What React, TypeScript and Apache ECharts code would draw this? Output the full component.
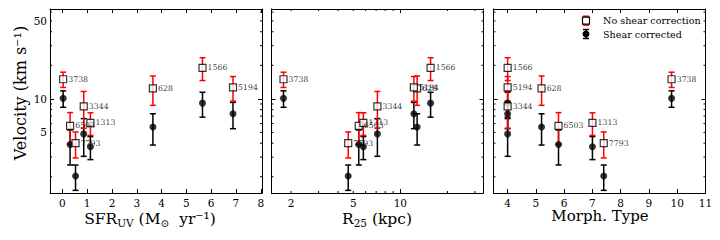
import React, { useEffect, useRef } from "react";
import * as echarts from "echarts";

// ---- data ----
const galaxies = ["3738", "628", "1566", "5194", "3344", "6503", "1313", "7793"];
const sfrUV = [0.03, 3.65, 5.65, 6.88, 0.86, 0.31, 1.13, 0.53];
const r25 = [1.79, 12.8, 15.6, 12.2, 7.13, 5.42, 5.8, 4.64];
const morphType = [9.8, 5.2, 4.0, 4.0, 4.0, 5.8, 7.0, 7.4];
const velNoShear = [15.0, 12.4, 19.0, 12.7, 8.55, 5.73, 6.1, 4.0];
const errNoShear = [2.35, 3.65, 4.4, 3.15, 3.1, 1.8, 1.4, 1.05];
const velShear = [10.1, 5.6, 9.15, 7.35, 4.85, 3.9, 3.72, 2.03];
const errShear = [1.7, 1.75, 2.3, 1.95, 1.8, 1.35, 0.87, 0.52];

// ---- ticks ----
const yTickLabels = [5, 10, 50];
const yMajorTicks = [10];
const yMinorTicks = [2, 3, 4, 5, 6, 7, 8, 9, 20, 30, 40, 50, 60];
const sfrTicks = [0, 1, 2, 3, 4, 5, 6, 7, 8];
const r25TickLabels = [2, 5, 10];
const r25MajorTicks = [10];
const r25MinorTicks = [2, 3, 4, 5, 6, 7, 8, 9, 20, 30];
const typeTicks = [4, 5, 6, 7, 8, 9, 10, 11];

const FONT = "DejaVu Serif";
const L10 = (v: number) => Math.log10(v);

export default function App() {
  const ref = useRef<HTMLDivElement>(null);
  useEffect(() => {
    if (!ref.current) return;
    const chart = echarts.init(ref.current, null, { renderer: "svg" });

    const gridTop = 9;
    const gridH = 184;
    const gridW = 212;
    const gridLefts = [50, 271.5, 493.5];
    const yMin = L10(1.43);
    const yMax = L10(64);
    const xRanges = [
      [-0.5, 8.05],
      [L10(1.5), L10(34)],
      [3.5, 11],
    ];
    const xVals = [sfrUV, r25.map(L10), morphType];
    const xMajor = [sfrTicks, r25MajorTicks.map(L10), typeTicks];
    const xLabels = [sfrTicks, r25TickLabels.map(L10), typeTicks];
    const xFormat = [
      (v: number) => String(Math.round(v)),
      (v: number) => String(Math.round(Math.pow(10, v))),
      (v: number) => String(Math.round(v)),
    ];
    const xMinor = [[], r25MinorTicks.map(L10), []];

    const grid: any[] = [];
    const xAxis: any[] = [];
    const yAxis: any[] = [];
    const series: any[] = [];

    const tickStyle = { color: "#000", width: 1 };
    const errRender = (color: string) => (params: any, api: any) => {
      const x = api.value(0);
      const p1 = api.coord([x, api.value(1)]);
      const p2 = api.coord([x, api.value(2)]);
      const cw = 3;
      const st = { stroke: color, lineWidth: 1.5 };
      return {
        type: "group",
        children: [
          { type: "line", shape: { x1: p1[0], y1: p1[1], x2: p2[0], y2: p2[1] }, style: st },
          { type: "line", shape: { x1: p1[0] - cw, y1: p1[1], x2: p1[0] + cw, y2: p1[1] }, style: st },
          { type: "line", shape: { x1: p2[0] - cw, y1: p2[1], x2: p2[0] + cw, y2: p2[1] }, style: st },
        ],
      };
    };

    for (let g = 0; g < 3; g++) {
      grid.push({ left: gridLefts[g], top: gridTop, width: gridW, height: gridH });
      const [xmin, xmax] = xRanges[g];
      for (const pos of ["bottom", "top"]) {
        xAxis.push({
          gridIndex: g,
          type: "value",
          position: pos,
          min: xmin,
          max: xmax,
          axisLine: { show: true, onZero: false, lineStyle: tickStyle },
          axisTick: { show: true, inside: true, length: 4, customValues: xMajor[g], lineStyle: tickStyle },
          axisLabel: {
            show: pos === "bottom",
            customValues: xLabels[g],
            formatter: xFormat[g],
            fontFamily: FONT,
            fontSize: 10.5,
            color: "#000",
            margin: 4,
          },
          splitLine: { show: false },
        });
      }
      for (const pos of ["left", "right"]) {
        yAxis.push({
          gridIndex: g,
          type: "value",
          position: pos,
          min: yMin,
          max: yMax,
          axisLine: { show: true, onZero: false, lineStyle: tickStyle },
          axisTick: { show: true, inside: true, length: 4, customValues: yMajorTicks.map(L10), lineStyle: tickStyle },
          axisLabel: {
            show: pos === "left" && g === 0,
            customValues: yTickLabels.map(L10),
            formatter: (v: number) => String(Math.round(Math.pow(10, v))),
            fontFamily: FONT,
            fontSize: 10.5,
            color: "#000",
            margin: 3,
          },
          splitLine: { show: false },
        });
      }
      const xi = 2 * g;
      const yi = 2 * g;

      // minor ticks
      const minorData: any[] = [];
      yMinorTicks.forEach((v) => minorData.push([xmin, L10(v), 0]));
      xMinor[g].forEach((v: number) => minorData.push([v, yMin, 1]));
      series.push({
        type: "custom",
        xAxisIndex: xi,
        yAxisIndex: yi,
        silent: true,
        encode: { x: 0, y: 1 },
        data: minorData,
        renderItem: (params: any, api: any) => {
          const cs = params.coordSys;
          const p = api.coord([api.value(0), api.value(1)]);
          const st = { stroke: "#000", lineWidth: 1 };
          if (api.value(2) === 0) {
            return {
              type: "group",
              children: [
                { type: "line", shape: { x1: cs.x, y1: p[1], x2: cs.x + 2, y2: p[1] }, style: st },
                { type: "line", shape: { x1: cs.x + cs.width - 2, y1: p[1], x2: cs.x + cs.width, y2: p[1] }, style: st },
              ],
            };
          }
          return {
            type: "group",
            children: [
              { type: "line", shape: { x1: p[0], y1: cs.y + cs.height, x2: p[0], y2: cs.y + cs.height - 2 }, style: st },
              { type: "line", shape: { x1: p[0], y1: cs.y, x2: p[0], y2: cs.y + 2 }, style: st },
            ],
          };
        },
      });

      const xs = xVals[g];
      // shear corrected (black)
      series.push({
        type: "custom",
        xAxisIndex: xi,
        yAxisIndex: yi,
        silent: true,
        encode: { x: 0, y: [1, 2] },
        data: xs.map((x, i) => [x, L10(velShear[i] - errShear[i]), L10(velShear[i] + errShear[i])]),
        renderItem: errRender("#000"),
      });
      series.push({
        type: "scatter",
        xAxisIndex: xi,
        yAxisIndex: yi,
        symbol: "circle",
        symbolSize: 7,
        itemStyle: { color: "#000" },
        silent: true,
        data: xs.map((x, i) => [x, L10(velShear[i])]),
      });
      // no shear correction (red bars, open squares)
      series.push({
        type: "custom",
        xAxisIndex: xi,
        yAxisIndex: yi,
        silent: true,
        encode: { x: 0, y: [1, 2] },
        data: xs.map((x, i) => [x, L10(velNoShear[i] - errNoShear[i]), L10(velNoShear[i] + errNoShear[i])]),
        renderItem: errRender("#ff0000"),
      });
      series.push({
        type: "scatter",
        xAxisIndex: xi,
        yAxisIndex: yi,
        symbol: "rect",
        symbolSize: 7,
        itemStyle: { color: "#fff", borderColor: "#000", borderWidth: 1.2 },
        silent: true,
        label: {
          show: true,
          position: "right",
          distance: 1,
          formatter: "{b}",
          fontFamily: FONT,
          fontSize: 7.8,
          color: "#000",
        },
        labelLayout: { hideOverlap: false },
        data: xs.map((x, i) => ({ name: galaxies[i], value: [x, L10(velNoShear[i])] })),
      });
    }

    const titleRich = {
      a: { fontFamily: FONT, fontSize: 15.5, lineHeight: 19, fill: "#000", color: "#000" },
      s: { fontFamily: FONT, fontSize: 10.5, lineHeight: 10, verticalAlign: "bottom", fill: "#000", color: "#000" },
    };

    const graphic: any[] = [
      {
        type: "text",
        x: 150,
        y: 219,
        style: {
          text: "{a|SFR}{s|UV}{a| (M}{s|⊙}{a|  yr⁻¹)}",
          rich: titleRich,
          align: "center",
          verticalAlign: "middle",
        },
      },
      {
        type: "text",
        x: 377,
        y: 219,
        style: {
          text: "{a|R}{s|25}{a| (kpc)}",
          rich: titleRich,
          align: "center",
          verticalAlign: "middle",
        },
      },
      {
        type: "text",
        x: 600,
        y: 216,
        style: {
          text: "Morph. Type",
          font: `15px "${FONT}"`,
          fill: "#000",
          align: "center",
          verticalAlign: "middle",
        },
      },
      {
        type: "text",
        x: 20,
        y: 93,
        rotation: Math.PI / 2,
        style: {
          text: "Velocity (km s⁻¹)",
          font: `16px "${FONT}"`,
          fill: "#000",
          align: "center",
          verticalAlign: "middle",
        },
      },
      // legend
      { type: "line", shape: { x1: 586, y1: 16.2, x2: 586, y2: 25.2 }, style: { stroke: "#ff0000", lineWidth: 1.5 } },
      { type: "line", shape: { x1: 583, y1: 16.2, x2: 589, y2: 16.2 }, style: { stroke: "#ff0000", lineWidth: 1.5 } },
      { type: "line", shape: { x1: 583, y1: 25.2, x2: 589, y2: 25.2 }, style: { stroke: "#ff0000", lineWidth: 1.5 } },
      { type: "rect", shape: { x: 582.5, y: 17.2, width: 7, height: 7 }, style: { fill: "#fff", stroke: "#000", lineWidth: 1.2 } },
      { type: "line", shape: { x1: 586, y1: 29.5, x2: 586, y2: 38.5 }, style: { stroke: "#000", lineWidth: 1.5 } },
      { type: "line", shape: { x1: 583, y1: 29.5, x2: 589, y2: 29.5 }, style: { stroke: "#000", lineWidth: 1.5 } },
      { type: "line", shape: { x1: 583, y1: 38.5, x2: 589, y2: 38.5 }, style: { stroke: "#000", lineWidth: 1.5 } },
      { type: "circle", shape: { cx: 586, cy: 34, r: 3.5 }, style: { fill: "#000" } },
      {
        type: "text",
        x: 603,
        y: 20.7,
        style: { text: "No shear correction", font: `9.6px "${FONT}"`, fill: "#000", verticalAlign: "middle" },
      },
      {
        type: "text",
        x: 603,
        y: 34,
        style: { text: "Shear corrected", font: `9.6px "${FONT}"`, fill: "#000", verticalAlign: "middle" },
      },
    ];

    chart.setOption({
      animation: false,
      backgroundColor: "#fff",
      grid,
      xAxis,
      yAxis,
      series,
      graphic,
    });
    return () => chart.dispose();
  }, []);

  return (
    <div
      ref={ref}
      style={{ position: "fixed", left: 0, top: 0, width: 720, height: 240 }}
    />
  );
}
